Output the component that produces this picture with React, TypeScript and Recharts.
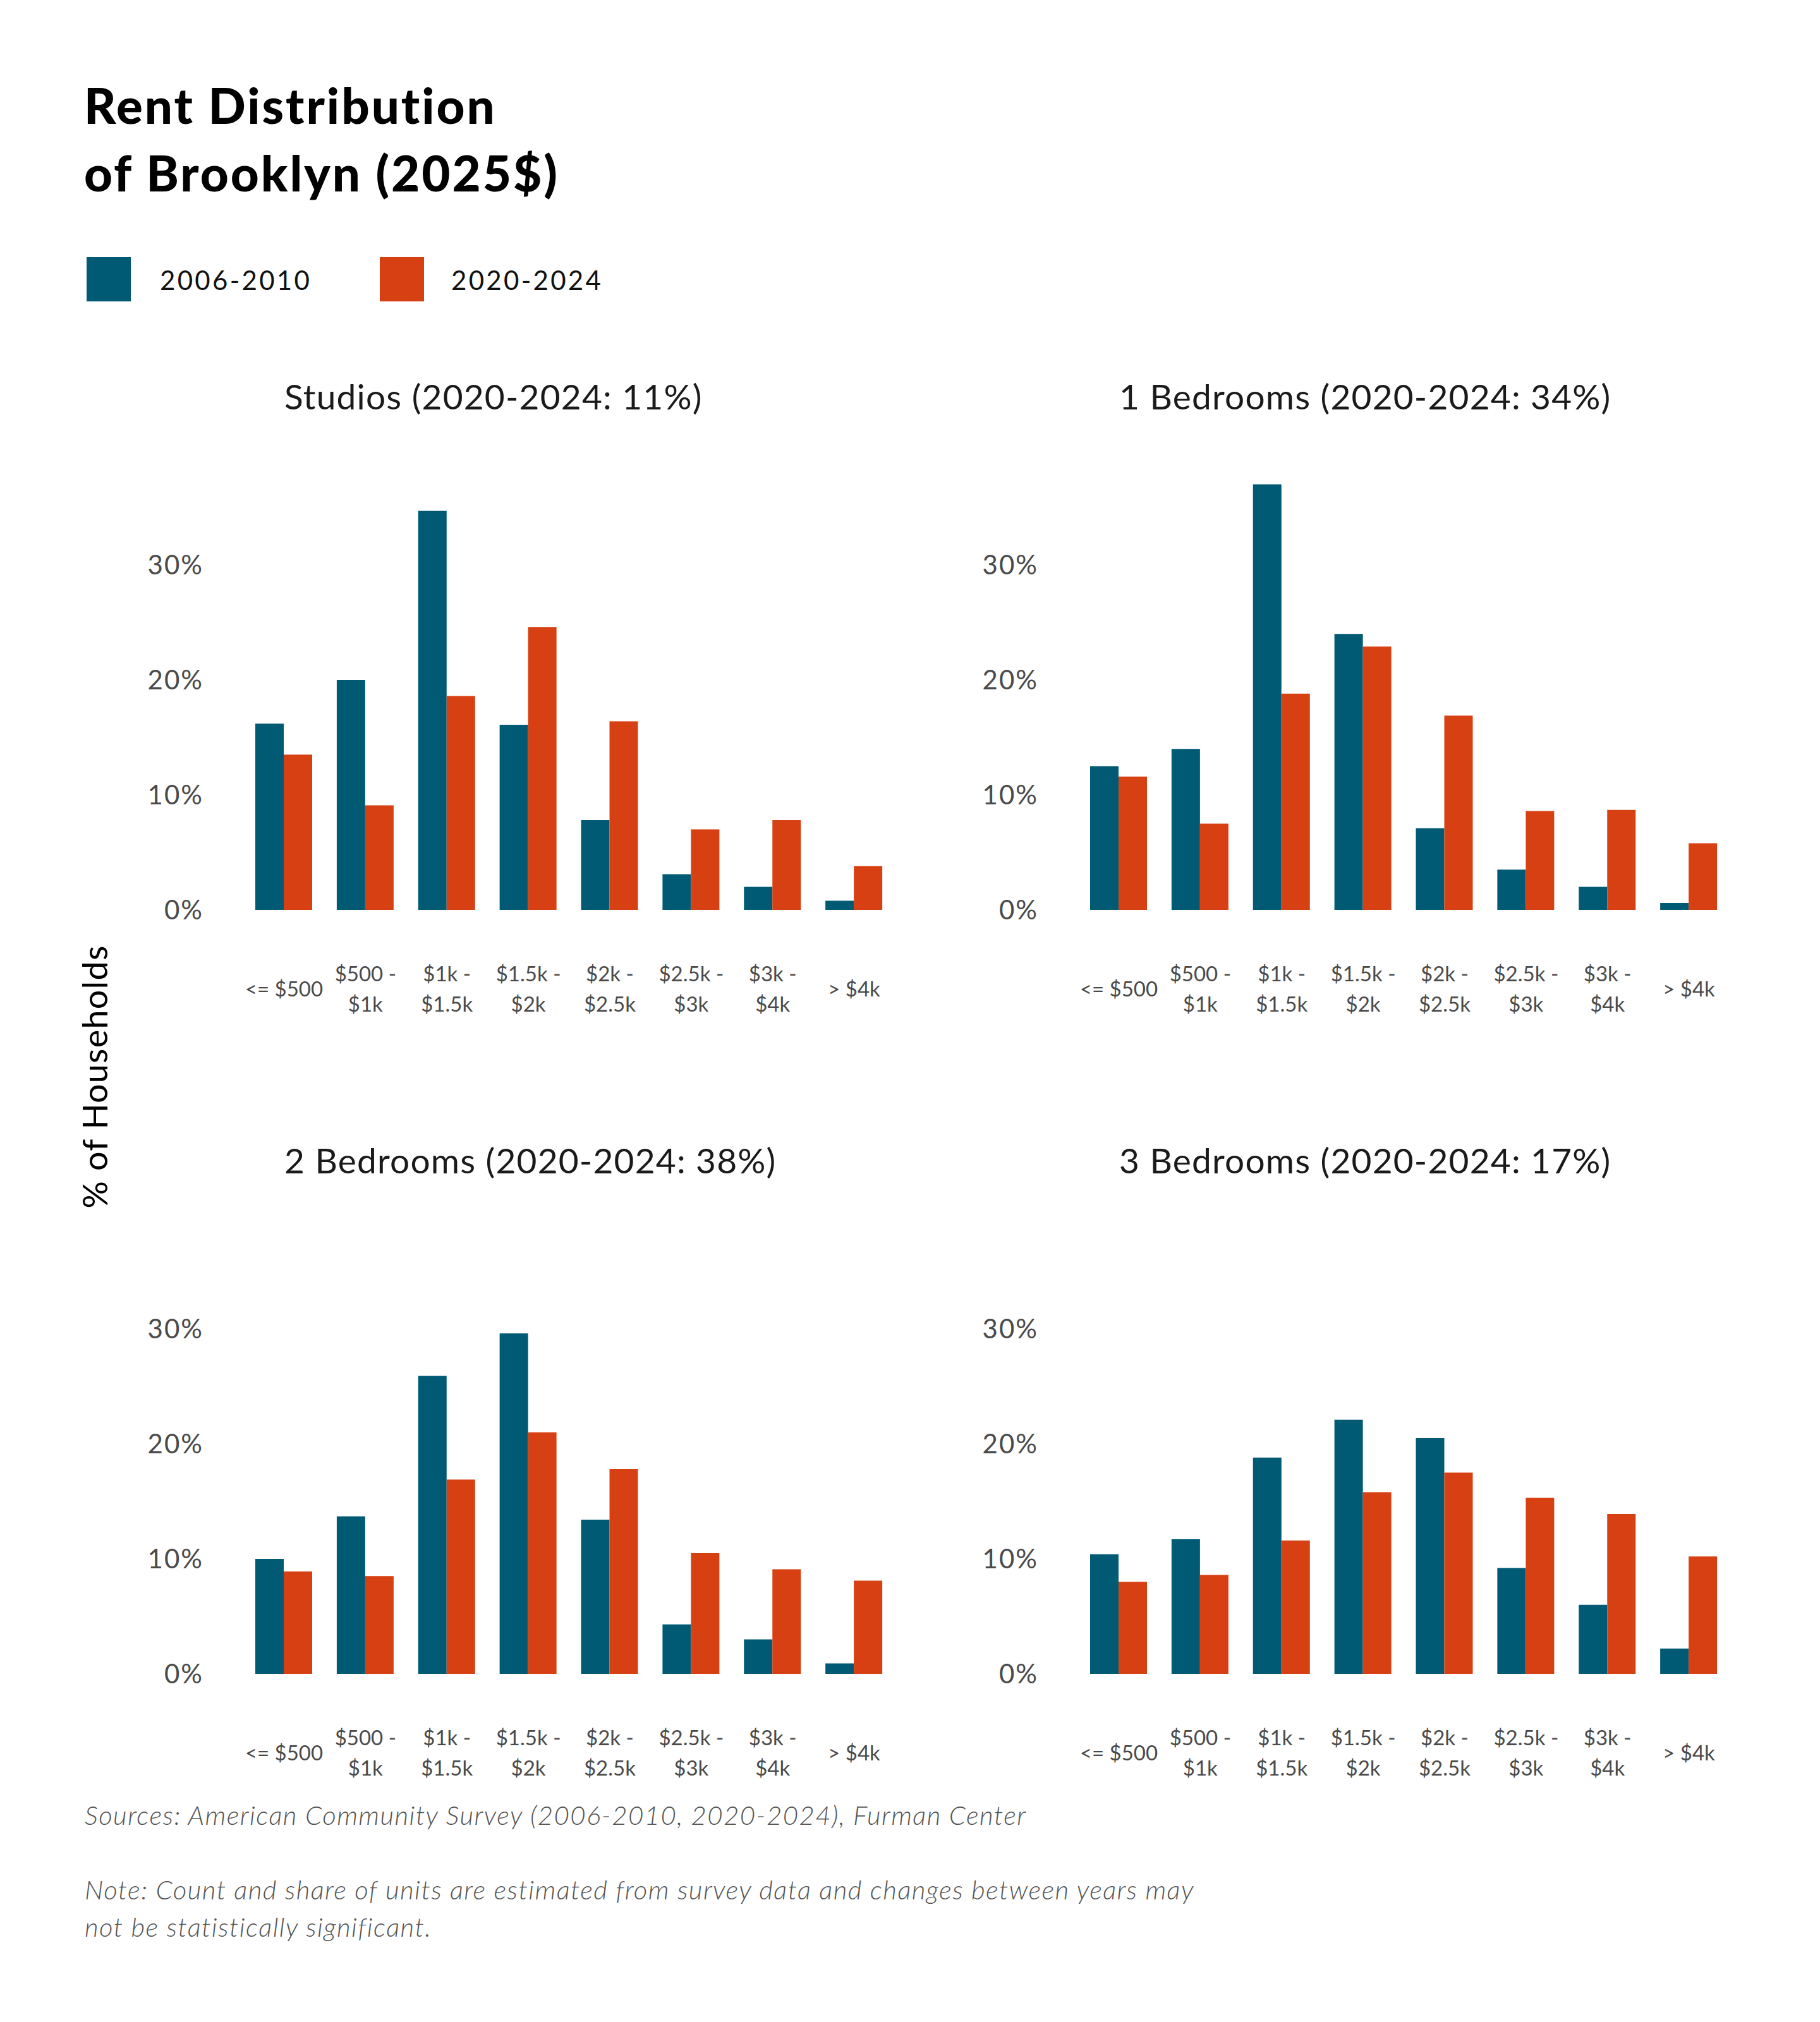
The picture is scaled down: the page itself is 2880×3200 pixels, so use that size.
import * as React from "react";
import { BarChart, Bar, XAxis, YAxis } from "recharts";

// rent brackets (wrapped on " - " for the axis)
const categories = [
  "<= $500",
  "$500 - $1k",
  "$1k - $1.5k",
  "$1.5k - $2k",
  "$2k - $2.5k",
  "$2.5k - $3k",
  "$3k - $4k",
  "> $4k",
];

// % of households
const studios2006 = [16.2, 20.0, 34.7, 16.1, 7.8, 3.1, 2.0, 0.8];
const studios2020 = [13.5, 9.1, 18.6, 24.6, 16.4, 7.0, 7.8, 3.8];
const oneBed2006 = [12.5, 14.0, 37.0, 24.0, 7.1, 3.5, 2.0, 0.6];
const oneBed2020 = [11.6, 7.5, 18.8, 22.9, 16.9, 8.6, 8.7, 5.8];
const twoBed2006 = [10.0, 13.7, 25.9, 29.6, 13.4, 4.3, 3.0, 0.9];
const twoBed2020 = [8.9, 8.5, 16.9, 21.0, 17.8, 10.5, 9.1, 8.1];
const threeBed2006 = [10.4, 11.7, 18.8, 22.1, 20.5, 9.2, 6.0, 2.2];
const threeBed2020 = [8.0, 8.6, 11.6, 15.8, 17.5, 15.3, 13.9, 10.2];

const panelTitles = [
  "Studios (2020-2024: 11%)",
  "1 Bedrooms (2020-2024: 34%)",
  "2 Bedrooms (2020-2024: 38%)",
  "3 Bedrooms (2020-2024: 17%)",
];

const seriesNames = ["2006-2010", "2020-2024"];
const yTicks = [0, 10, 20, 30];

const BLUE = "#005a74";
const ORANGE = "#d74013";
const FONT = "Lato, 'Open Sans', sans-serif";

const panels = [
  { title: panelTitles[0], a: studios2006, b: studios2020 },
  { title: panelTitles[1], a: oneBed2006, b: oneBed2020 },
  { title: panelTitles[2], a: twoBed2006, b: twoBed2020 },
  { title: panelTitles[3], a: threeBed2006, b: threeBed2020 },
];

const COL_STEP = 1321;
const ROW_STEP = 1209;

function CategoryTick({ x, y, payload }: any) {
  const parts = String(payload.value).split(" - ");
  const common = {
    textAnchor: "middle" as const,
    dominantBaseline: "central" as const,
    fill: "#4a4a4a",
    fontSize: 33,
    fontFamily: FONT,
  };
  if (parts.length === 1) {
    return (
      <text x={x} y={y + 124} {...common}>
        {parts[0]}
      </text>
    );
  }
  return (
    <text x={x} y={y} {...common}>
      <tspan x={x} y={y + 100}>{parts[0]} -</tspan>
      <tspan x={x} y={y + 148}>{parts[1]}</tspan>
    </text>
  );
}

function Panel({ a, b, left, top }: { a: number[]; b: number[]; left: number; top: number }) {
  const data = categories.map((c, i) => ({ cat: c, early: a[i], late: b[i] }));
  return (
    <div style={{ position: "absolute", left, top }}>
      <BarChart
        width={1260}
        height={1000}
        data={data}
        margin={{ top: 12, right: 43, bottom: 60, left: 86 }}
        barGap={0}
      >
        <XAxis
          dataKey="cat"
          axisLine={false}
          tickLine={false}
          tickSize={0}
          tickMargin={0}
          height={200}
          interval={0}
          tick={<CategoryTick />}
        />
        <YAxis
          domain={[0, 40]}
          ticks={yTicks}
          axisLine={false}
          tickLine={false}
          tickSize={0}
          tickMargin={63}
          width={100}
          tickFormatter={(v: number) => `${v}%`}
          tick={{ fill: "#4a4a4a", fontSize: 42, fontFamily: FONT, letterSpacing: 2 }}
        />
        <Bar dataKey="early" fill={BLUE} barSize={45} isAnimationActive={false} />
        <Bar dataKey="late" fill={ORANGE} barSize={45} isAnimationActive={false} />
      </BarChart>
    </div>
  );
}

const noteStyle = {
  fontSize: 42,
  fontStyle: "italic",
  fontWeight: 300,
  fill: "#555",
  letterSpacing: 1.4,
} as const;

export default function App() {
  return (
    <div
      style={{
        position: "absolute",
        left: 0,
        top: 0,
        width: 2880,
        height: 3200,
        background: "#ffffff",
        fontFamily: FONT,
        overflow: "hidden",
      }}
    >
      <svg
        width={2880}
        height={3200}
        style={{ position: "absolute", left: 0, top: 0 }}
        fontFamily={FONT}
      >
        <text x={133} y={196} fontSize={78} fontWeight={900} fill="#000" letterSpacing={3}>
          Rent Distribution
        </text>
        <text x={133} y={303} fontSize={78} fontWeight={900} fill="#000" letterSpacing={3}>
          of Brooklyn (2025$)
        </text>

        {/* legend */}
        <rect x={137} y={407} width={70} height={70} fill={BLUE} />
        <text x={253} y={443} fontSize={42} fill="#111" dominantBaseline="central" letterSpacing={3.3}>
          {seriesNames[0]}
        </text>
        <rect x={601} y={407} width={70} height={70} fill={ORANGE} />
        <text x={714} y={443} fontSize={42} fill="#111" dominantBaseline="central" letterSpacing={3.3}>
          {seriesNames[1]}
        </text>

        {/* facet titles */}
        {panels.map((p, i) => (
          <text
            key={p.title}
            x={450 + (i % 2) * COL_STEP}
            y={648 + Math.floor(i / 2) * ROW_STEP}
            fontSize={55}
            fill="#1a1a1a"
            letterSpacing={1.2}
          >
            {p.title}
          </text>
        ))}

        <text
          transform="translate(149,1704) rotate(-90)"
          textAnchor="middle"
          dominantBaseline="central"
          fontSize={54}
          fill="#000"
          letterSpacing={1.2}
        >
          % of Households
        </text>

        <text x={134} y={2872} dominantBaseline="central" {...noteStyle}>
          Sources: American Community Survey (2006-2010, 2020-2024), Furman Center
        </text>
        <text x={134} y={2990} dominantBaseline="central" {...noteStyle}>
          Note: Count and share of units are estimated from survey data and changes between years may
        </text>
        <text x={134} y={3049} dominantBaseline="central" {...noteStyle}>
          not be statistically significant.
        </text>
      </svg>

      {panels.map((p, i) => (
        <Panel
          key={p.title}
          a={p.a}
          b={p.b}
          left={199 + (i % 2) * COL_STEP}
          top={700 + Math.floor(i / 2) * ROW_STEP}
        />
      ))}
    </div>
  );
}
